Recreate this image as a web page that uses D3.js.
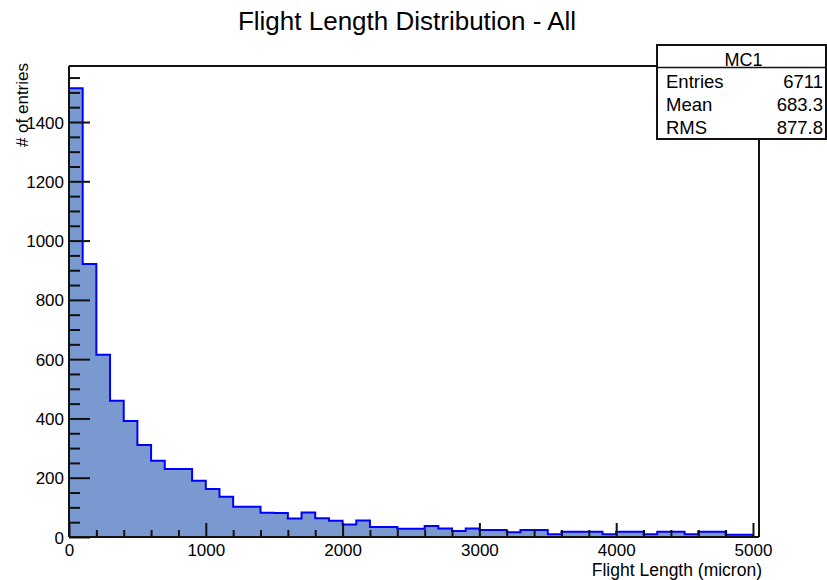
<!DOCTYPE html>
<html>
<head>
<meta charset="utf-8">
<script src="https://cdn.jsdelivr.net/npm/d3@7/dist/d3.min.js"></script>
<style>
  html, body { margin: 0; padding: 0; background: #fff; }
  svg { display: block; font-family: "Liberation Sans", Arial, Helvetica, sans-serif; }
</style>
</head>
<body>
<svg id="chart" width="827" height="580"></svg>
<script>
// Flight length histogram: 100-micron bins starting at 0
const binWidth = 100;
const binCounts = [
  1514, 921, 615, 460, 391, 310, 257, 229, 229, 190,
  162, 136, 102, 102, 82, 81, 62, 83, 63, 55,
  42, 56, 34, 34, 28, 28, 37, 29, 20, 29,
  24, 24, 16, 24, 24, 9, 18, 18, 18, 9,
  18, 18, 9, 18, 18, 9, 18, 18, 8, 8
];
const xMajorTicks = [0, 1000, 2000, 3000, 4000, 5000];
const yMajorTicks = [0, 200, 400, 600, 800, 1000, 1200, 1400];
const statsLabels = ["Entries", "Mean", "RMS"];
const statsValues = ["6711", "683.3", "877.8"];
const histName = "MC1";
const titleText = "Flight Length Distribution - All";
const xTitle = "Flight Length (micron)";
const yTitle = "# of entries";

const svg = d3.select("#chart");
const frame = { left: 69, right: 759, top: 66, bottom: 537 };

const x = d3.scaleLinear().domain([0, 5044]).range([frame.left, frame.right]);
const y = d3.scaleLinear().domain([0, 1589]).range([frame.bottom, frame.top]);

// histogram fill and outline
const pts = [{ x: 0, v: 0 }];
binCounts.forEach((c, i) => pts.push({ x: i * binWidth, v: c }));
pts.push({ x: binCounts.length * binWidth, v: binCounts[binCounts.length - 1] });
pts.push({ x: binCounts.length * binWidth, v: 0 });

const area = d3.area()
  .x(d => x(d.x)).y0(y(0)).y1(d => y(d.v))
  .curve(d3.curveStepAfter);
const line = d3.line()
  .x(d => x(d.x)).y(d => y(d.v))
  .curve(d3.curveStepAfter);

svg.append("path").datum(pts)
  .attr("d", area)
  .attr("fill", "#7b99d1");
svg.append("path").datum(pts)
  .attr("d", line)
  .attr("fill", "none")
  .attr("stroke", "#0000ff")
  .attr("stroke-width", 2);

// minor ticks
const xMinor = d3.range(0, 5001, 200).filter(v => v % 1000 !== 0);
const yMinor = d3.range(0, 1551, 50).filter(v => v % 200 !== 0);

const xAxisMinor = svg.append("g")
  .attr("transform", `translate(0,${frame.bottom})`)
  .call(d3.axisBottom(x).tickValues(xMinor).tickSize(-7).tickFormat(""));
const yAxisMinor = svg.append("g")
  .attr("transform", `translate(${frame.left},0)`)
  .call(d3.axisLeft(y).tickValues(yMinor).tickSize(-11).tickFormat(""));

// major ticks with labels
const xAxis = svg.append("g")
  .attr("transform", `translate(0,${frame.bottom})`)
  .call(d3.axisBottom(x).tickValues(xMajorTicks).tickSizeInner(-14).tickSizeOuter(0)
    .tickPadding(19).tickFormat(d3.format("d")));
const yAxis = svg.append("g")
  .attr("transform", `translate(${frame.left},0)`)
  .call(d3.axisLeft(y).tickValues(yMajorTicks).tickSizeInner(-21).tickSizeOuter(0)
    .tickPadding(5).tickFormat(d3.format("d")));

[xAxisMinor, yAxisMinor, xAxis, yAxis].forEach(g => {
  g.select(".domain").remove();
  g.selectAll(".tick line").attr("stroke", "#111").attr("stroke-width", 2);
});
xAxis.selectAll(".tick text")
  .attr("font-size", 17).attr("fill", "#000").attr("dy", 0).attr("y", 19);
yAxis.selectAll(".tick text")
  .attr("font-size", 17).attr("fill", "#000").attr("x", -5).attr("dy", "0.36em");

// frame: left, bottom, top (up to the stats box), right (below the stats box)
const box = { left: 657, right: 826, top: 45, bottom: 139 };
const frameG = svg.append("g").attr("stroke", "#111").attr("stroke-width", 2).attr("fill", "none");
frameG.append("line").attr("x1", frame.left).attr("x2", frame.left).attr("y1", frame.top).attr("y2", frame.bottom);
frameG.append("line").attr("x1", frame.left).attr("x2", frame.right).attr("y1", frame.bottom).attr("y2", frame.bottom);
frameG.append("line").attr("x1", frame.left).attr("x2", box.left).attr("y1", frame.top).attr("y2", frame.top);
frameG.append("line").attr("x1", frame.right).attr("x2", frame.right).attr("y1", box.bottom).attr("y2", frame.bottom);

// title
svg.append("text")
  .attr("x", 407).attr("y", 30)
  .attr("text-anchor", "middle")
  .attr("font-size", 26)
  .attr("fill", "#000")
  .text(titleText);

// axis titles
svg.append("text")
  .attr("x", frame.right + 3).attr("y", 576)
  .attr("text-anchor", "end")
  .attr("font-size", 17.5)
  .attr("fill", "#000")
  .text(xTitle);
svg.append("text")
  .attr("transform", "translate(28,63) rotate(-90)")
  .attr("text-anchor", "end")
  .attr("font-size", 17)
  .attr("fill", "#000")
  .text(yTitle);

// statistics box
const stats = svg.append("g");
stats.append("rect")
  .attr("x", box.left).attr("y", box.top)
  .attr("width", box.right - box.left).attr("height", box.bottom - box.top)
  .attr("fill", "#fff").attr("stroke", "#111").attr("stroke-width", 2);
stats.append("line")
  .attr("x1", box.left).attr("x2", box.right)
  .attr("y1", 67.5).attr("y2", 67.5)
  .attr("stroke", "#111").attr("stroke-width", 1.5);
stats.append("text")
  .attr("x", (box.left + box.right) / 2 + 2).attr("y", 65.5)
  .attr("text-anchor", "middle").attr("font-size", 18).attr("fill", "#000")
  .text(histName);
const rowY = d3.scalePoint().domain(statsLabels).range([88, 134]);
stats.selectAll("text.lbl").data(statsLabels).join("text")
  .attr("class", "lbl")
  .attr("x", box.left + 9).attr("y", d => rowY(d))
  .attr("font-size", 18.5).attr("fill", "#000")
  .text(d => d);
stats.selectAll("text.val").data(statsValues).join("text")
  .attr("class", "val")
  .attr("x", 823).attr("y", (d, i) => rowY(statsLabels[i]))
  .attr("text-anchor", "end")
  .attr("font-size", 18.5).attr("fill", "#000")
  .text(d => d);
</script>
</body>
</html>
